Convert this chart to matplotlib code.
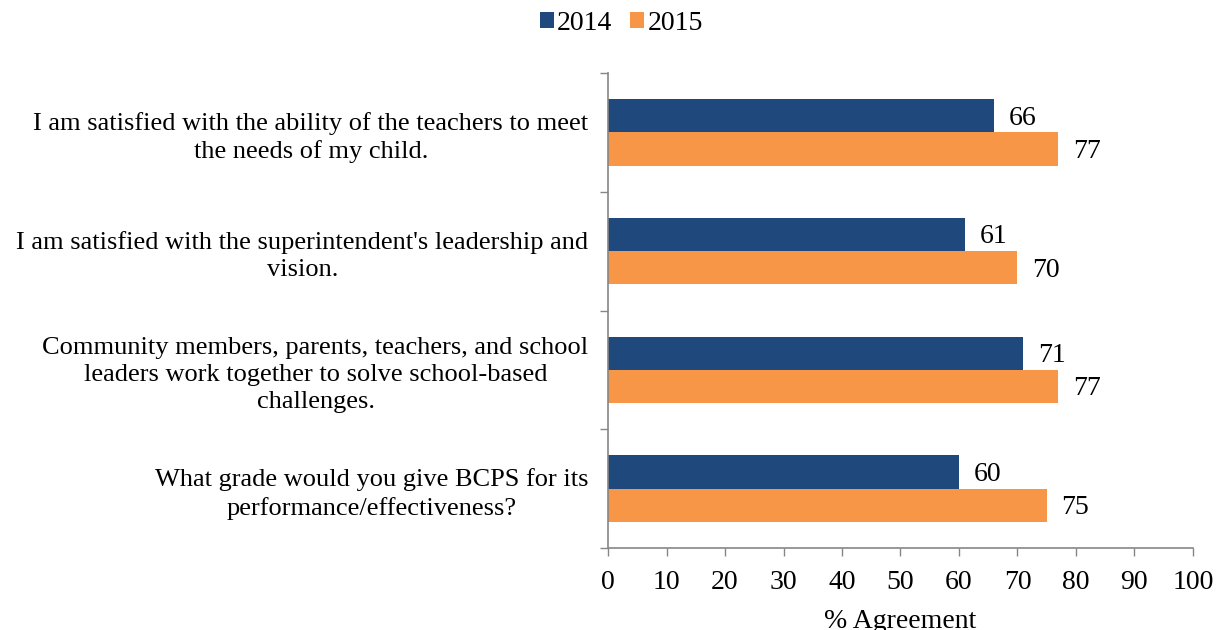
import matplotlib.pyplot as plt
import numpy as np

categories = [
    "I am satisfied with the ability of the teachers to meet\nthe needs of my child.",
    "I am satisfied with the superintendent's leadership and\nvision.",
    "Community members, parents, teachers, and school\nleaders work together to solve school-based\nchallenges.",
    "What grade would you give BCPS for its\nperformance/effectiveness?",
]
vals_2014 = [66, 61, 71, 60]
vals_2015 = [77, 70, 77, 75]
series_names = ["2014", "2015"]

plt.rcParams['font.family'] = ['Liberation Serif', 'DejaVu Serif']

fig = plt.figure(figsize=(12.21, 6.3), dpi=100)
ax = fig.add_axes([0.498, 0.130, 0.479, 0.754])

y = np.arange(len(categories))
h = 0.28
b1 = ax.barh(y - h / 2, vals_2014, height=h, color='#1F497D', label=series_names[0])
b2 = ax.barh(y + h / 2, vals_2015, height=h, color='#F79646', label=series_names[1])

for bars in (b1, b2):
    for rect in bars:
        w = rect.get_width()
        ax.text(w + 2.5, rect.get_y() + rect.get_height() / 2 + 0.02, f"{w:.0f}",
                ha='left', va='center', fontsize=20)

ax.set_xlim(0, 100)
ax.set_ylim(len(categories) - 0.5, -0.5)
ax.set_xticks(np.arange(0, 101, 10))
ax.tick_params(axis='x', labelsize=20, direction='out', length=6, width=1,
               color='#868686', pad=10)

ax.set_yticks(np.arange(-0.5, len(categories), 1))
ax.set_yticklabels([])
ax.set_yticks(y, minor=True)
ax.set_yticklabels(categories, minor=True, fontsize=19, multialignment='center',
                   linespacing=1.3)
ax.tick_params(axis='y', which='major', direction='out', length=6, width=1, color='#868686')
ax.tick_params(axis='y', which='minor', length=0, pad=14)

for s in ('top', 'right'):
    ax.spines[s].set_visible(False)
for s in ('left', 'bottom'):
    ax.spines[s].set_color('#868686')
    ax.spines[s].set_linewidth(1.2)

ax.set_xlabel("% Agreement", fontsize=20, labelpad=10)

fig.legend(handles=[b1, b2], loc='center', bbox_to_anchor=(0.509, 0.963), ncol=2,
           frameon=False, fontsize=20, handlelength=0.5, handleheight=0.5,
           handletextpad=0.12, columnspacing=0.65)

fig.savefig("out.png", dpi=100)
